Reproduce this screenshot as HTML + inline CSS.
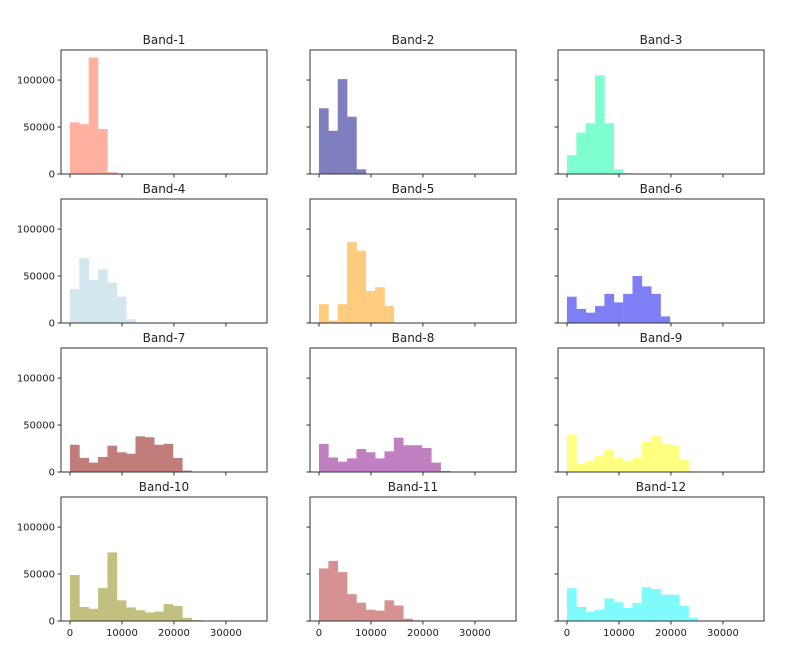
<!DOCTYPE html>
<html><head><meta charset="utf-8"><style>
body{margin:0;background:#fff;font-family:"Liberation Sans","DejaVu Sans",sans-serif}
svg text{font-family:"DejaVu Sans","Liberation Sans",sans-serif}
</style></head><body>
<svg id="c" width="796" height="654" xmlns="http://www.w3.org/2000/svg"></svg>
<script>
const bandNames=["Band-1","Band-2","Band-3","Band-4","Band-5","Band-6","Band-7","Band-8","Band-9","Band-10","Band-11","Band-12"];
const band1=[55000,53000,124000,48000,2000];
const band2=[70000,46000,101000,61000,5000];
const band3=[20000,44000,54000,105000,54000,5000,1000];
const band4=[36000,69000,46000,57000,43000,28000,4000,500];
const band5=[20000,2500,20000,86000,77000,34000,38000,18000];
const band6=[28000,15000,11000,18000,31000,22000,31000,50000,39000,31000,7000];
const band7=[29000,15000,10000,16000,28000,21000,19500,38000,37000,29000,30000,15000,1500];
const band8=[30000,15500,11000,14500,24500,21000,14500,22000,36500,28500,28500,25500,10000,1000];
const band9=[40000,9000,12000,17000,24000,15000,12000,15000,32000,38000,30000,28000,13000,1000];
const band10=[49000,15000,13000,35000,73000,22000,14500,11500,9000,10000,18000,16000,3500,1000];
const band11=[56000,64000,52000,28500,19500,12000,11000,22000,16500,2500,700];
const band12=[35000,15000,10000,12000,24000,20000,14000,19000,36000,34000,28000,28000,16000,3500];
const bands=[band1,band2,band3,band4,band5,band6,band7,band8,band9,band10,band11,band12];
const colors=["#ffb09e","#7f7fbf","#7fffd0","#d2e7ee","#ffcb7c","#7f7ff5","#c07d7a","#c07fc0","#ffff7f","#c2c07e","#d69290","#7ffbfb"];
const binWidth=1800;
const xTicks=[0,10000,20000,30000];
const yTicks=[0,50000,100000];
const NS="http://www.w3.org/2000/svg";
const svg=document.getElementById("c");
const colLeft=[61,310,558], rowTop=[50,199,348,497], W=206, H=124;
const xMin=-1730, xMax=37900, yMax=132000;
function mk(t,a,p){const e=document.createElementNS(NS,t);for(const k in a)e.setAttribute(k,a[k]);(p||svg).appendChild(e);return e;}
bands.forEach((vals,i)=>{
  const r=Math.floor(i/3), c=i%3, L=colLeft[c], T=rowTop[r];
  const sx=v=>L+(v-xMin)/(xMax-xMin)*W;
  const sy=v=>T+H-v/yMax*H;
  const g=mk("g",{});
  
  
  vals.forEach((v,j)=>{
    const x0=sx(j*binWidth), x1=sx((j+1)*binWidth);
    const b=mk("rect",{x:x0,y:sy(v),width:x1-x0+0.3,height:sy(0)-sy(v),fill:colors[i]},g);
    
    
  });
  const fr=mk("rect",{x:L,y:T,width:W,height:H,fill:"none",stroke:"#333",'stroke-width':1},g);
  
  
  const t=mk("text",{x:L+W/2,y:T-6,'text-anchor':'middle','font-size':12,fill:'#222'},g);
  t.textContent=bandNames[i];
  
  
  xTicks.forEach(v=>{
    mk("line",{x1:sx(v),x2:sx(v),y1:T+H,y2:T+H+3.5,stroke:"#333"},g);
    if(r===3){const tl=mk("text",{x:sx(v),y:T+H+15,'text-anchor':'middle','font-size':10,fill:'#222'},g);tl.textContent=v;
      
      }
  });
  yTicks.forEach(v=>{
    mk("line",{x1:L,x2:L-3.5,y1:sy(v),y2:sy(v),stroke:"#333"},g);
    if(c===0){const tl=mk("text",{x:L-6,y:sy(v)+3.5,'text-anchor':'end','font-size':10,fill:'#222'},g);tl.textContent=v;
      
      }
  });
});
</script>
</body></html>
